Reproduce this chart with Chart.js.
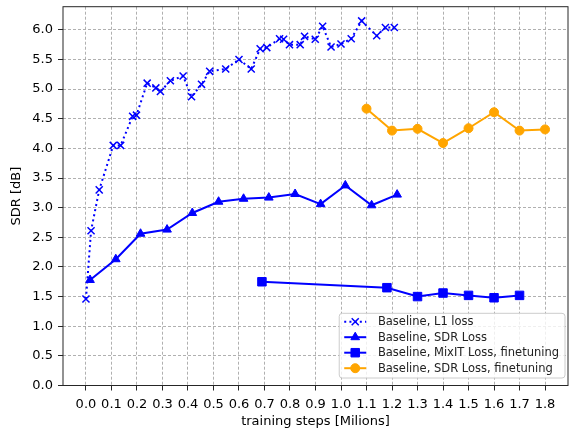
<!DOCTYPE html>
<html>
<head>
<meta charset="utf-8">
<script src="https://cdn.jsdelivr.net/npm/chart.js@4.4.1/dist/chart.umd.min.js"></script>
<style>
  body { margin: 0; background: #fff; }
  canvas { display: block; }
</style>
</head>
<body>
<canvas id="myChart" width="569" height="429"></canvas>
<script>
// values
const l1Steps = [0.0, 0.02, 0.052, 0.107, 0.136, 0.183, 0.198, 0.24, 0.274, 0.292, 0.331, 0.381, 0.414,
    0.453, 0.485, 0.548, 0.6, 0.648, 0.683, 0.709, 0.759, 0.775, 0.798, 0.84, 0.857, 0.899, 0.928,
    0.961, 1.0, 1.04, 1.081, 1.14, 1.174, 1.209];
const l1Sdr = [1.46, 2.61, 3.30, 4.05, 4.05, 4.54, 4.56, 5.10, 5.02, 4.96, 5.14, 5.22, 4.87,
    5.08, 5.30, 5.34, 5.50, 5.34, 5.68, 5.70, 5.85, 5.84, 5.75, 5.75, 5.89, 5.84, 6.06,
    5.71, 5.76, 5.85, 6.15, 5.90, 6.04, 6.04];

const sdrSteps = [0.016, 0.117, 0.214, 0.318, 0.417, 0.52, 0.618, 0.717, 0.82, 0.92, 1.017, 1.12, 1.22];
const sdrValues = [1.78, 2.13, 2.56, 2.63, 2.91, 3.10, 3.15, 3.17, 3.23, 3.06, 3.375, 3.04, 3.22];

const mixitSteps = [0.69, 1.18, 1.30, 1.40, 1.50, 1.60, 1.70];
const mixitSdr = [1.75, 1.65, 1.50, 1.56, 1.52, 1.48, 1.52];

const ftSteps = [1.1, 1.2, 1.3, 1.4, 1.5, 1.6, 1.7, 1.8];
const ftSdr = [4.67, 4.30, 4.33, 4.09, 4.34, 4.61, 4.30, 4.32];

const xTicks = [0.0, 0.1, 0.2, 0.3, 0.4, 0.5, 0.6, 0.7, 0.8, 0.9, 1.0, 1.1, 1.2, 1.3, 1.4, 1.5, 1.6, 1.7, 1.8];
const yTicks = [0.0, 0.5, 1.0, 1.5, 2.0, 2.5, 3.0, 3.5, 4.0, 4.5, 5.0, 5.5, 6.0];

const labels = ['Baseline, L1 loss', 'Baseline, SDR Loss', 'Baseline, MixIT Loss, finetuning', 'Baseline, SDR Loss, finetuning'];

function toPoints(xs, ys) {
    return xs.map((x, i) => ({x: x, y: ys[i]}));
}

Chart.defaults.font.family = 'DejaVu Sans';
Chart.defaults.font.size = 13;
Chart.defaults.color = '#000';

const data = {
    datasets: [{
        label: labels[0],
        data: toPoints(l1Steps, l1Sdr),
        borderColor: '#0000ff',
        backgroundColor: '#0000ff',
        borderWidth: 2,
        borderDash: [2, 3.2],
        pointStyle: 'crossRot',
        pointRadius: 5,
        pointBorderWidth: 1.5,
        order: 4
    }, {
        label: labels[1],
        data: toPoints(sdrSteps, sdrValues),
        borderColor: '#0000ff',
        backgroundColor: '#0000ff',
        borderWidth: 2,
        pointStyle: 'triangle',
        pointRadius: 5,
        pointBorderWidth: 1,
        order: 3
    }, {
        label: labels[2],
        data: toPoints(mixitSteps, mixitSdr),
        borderColor: '#0000ff',
        backgroundColor: '#0000ff',
        borderWidth: 2,
        pointStyle: 'rect',
        pointRadius: 6,
        pointBorderWidth: 1,
        order: 2
    }, {
        label: labels[3],
        data: toPoints(ftSteps, ftSdr),
        borderColor: '#ffa500',
        backgroundColor: '#ffa500',
        borderWidth: 2,
        pointStyle: 'circle',
        pointRadius: 4.5,
        pointBorderWidth: 1,
        order: 1
    }]
};

// frame round the plot and the legend inside it
const innerLegend = {
    id: 'innerLegend',
    afterDraw(chart) {
        const ctx = chart.ctx;
        const area = chart.chartArea;
        ctx.save();
        ctx.strokeStyle = '#262626';
        ctx.lineWidth = 1;
        ctx.setLineDash([]);
        ctx.strokeRect(area.left, area.top, area.right - area.left, area.bottom - area.top);

        ctx.font = '11.5px "DejaVu Sans"';
        let maxW = 0;
        for (let l of labels) {
            maxW = Math.max(maxW, ctx.measureText(l).width);
        }
        const right = area.right - 3;
        const bottom = area.bottom - 7.5;
        const top = bottom - 64.7;
        const left = right - (5 + 22 + 11.7 + maxW + 6);

        ctx.beginPath();
        ctx.roundRect(left, top, right - left, bottom - top, 3);
        ctx.fillStyle = 'rgba(255,255,255,0.8)';
        ctx.fill();
        ctx.strokeStyle = '#cccccc';
        ctx.stroke();

        chart.data.datasets.forEach((ds, i) => {
            const cy = top + 8.4 + i * 15.5;
            ctx.strokeStyle = ds.borderColor;
            ctx.fillStyle = ds.backgroundColor;
            ctx.lineWidth = ds.borderWidth;
            ctx.setLineDash(ds.borderDash || []);
            ctx.beginPath();
            ctx.moveTo(left + 5, cy);
            ctx.lineTo(left + 27, cy);
            ctx.stroke();
            ctx.setLineDash([]);
            ctx.lineWidth = ds.pointBorderWidth;
            Chart.helpers.drawPoint(ctx, {
                pointStyle: ds.pointStyle,
                radius: ds.pointRadius,
                rotation: 0,
                borderWidth: ds.pointBorderWidth
            }, left + 16, cy);
            ctx.fillStyle = '#222';
            ctx.textBaseline = 'middle';
            ctx.textAlign = 'left';
            ctx.fillText(ds.label, left + 38.7, cy + 0.5);
        });
        ctx.restore();
    }
};

const config = {
    type: 'line',
    data: data,
    options: {
        responsive: false,
        animation: false,
        devicePixelRatio: 1,
        layout: {
            autoPadding: false,
            padding: {top: 6.7, right: 1, left: 0, bottom: 0}
        },
        plugins: {
            legend: {display: false},
            tooltip: {enabled: false}
        },
        scales: {
            x: {
                type: 'linear',
                min: -0.09,
                max: 1.89,
                afterBuildTicks: (scale) => {
                    scale.ticks = xTicks.map(v => ({value: v}));
                },
                afterFit: (scale) => {
                    scale.height = 43.5;
                    scale.paddingLeft = 0;
                    scale.paddingRight = 0;
                },
                ticks: {
                    autoSkip: false,
                    maxRotation: 0,
                    padding: 6,
                    color: '#000',
                    callback: (v) => v.toFixed(1)
                },
                grid: {
                    color: '#b0b0b0',
                    lineWidth: 1,
                    tickLength: 5,
                    tickColor: '#262626',
                    tickBorderDash: []
                },
                border: {display: false, dash: [3, 2]},
                title: {
                    display: true,
                    text: 'training steps [Milions]',
                    color: '#000',
                    padding: {top: 0, bottom: 0}
                }
            },
            y: {
                type: 'linear',
                min: 0,
                max: 6.39,
                afterBuildTicks: (scale) => {
                    scale.ticks = yTicks.map(v => ({value: v}));
                },
                afterFit: (scale) => {
                    scale.width = 63;
                    scale.paddingTop = 0;
                    scale.paddingBottom = 0;
                },
                ticks: {
                    autoSkip: false,
                    padding: 5,
                    color: '#000',
                    callback: (v) => v.toFixed(1)
                },
                grid: {
                    color: '#b0b0b0',
                    lineWidth: 1,
                    tickLength: 5,
                    tickColor: '#262626',
                    tickBorderDash: []
                },
                border: {display: false, dash: [3, 2]},
                title: {
                    display: true,
                    text: 'SDR [dB]',
                    color: '#000',
                    padding: {top: 9, bottom: 0}
                }
            }
        }
    },
    plugins: [innerLegend]
};

var myChart = new Chart(document.getElementById('myChart'), config);
</script>
</body>
</html>
